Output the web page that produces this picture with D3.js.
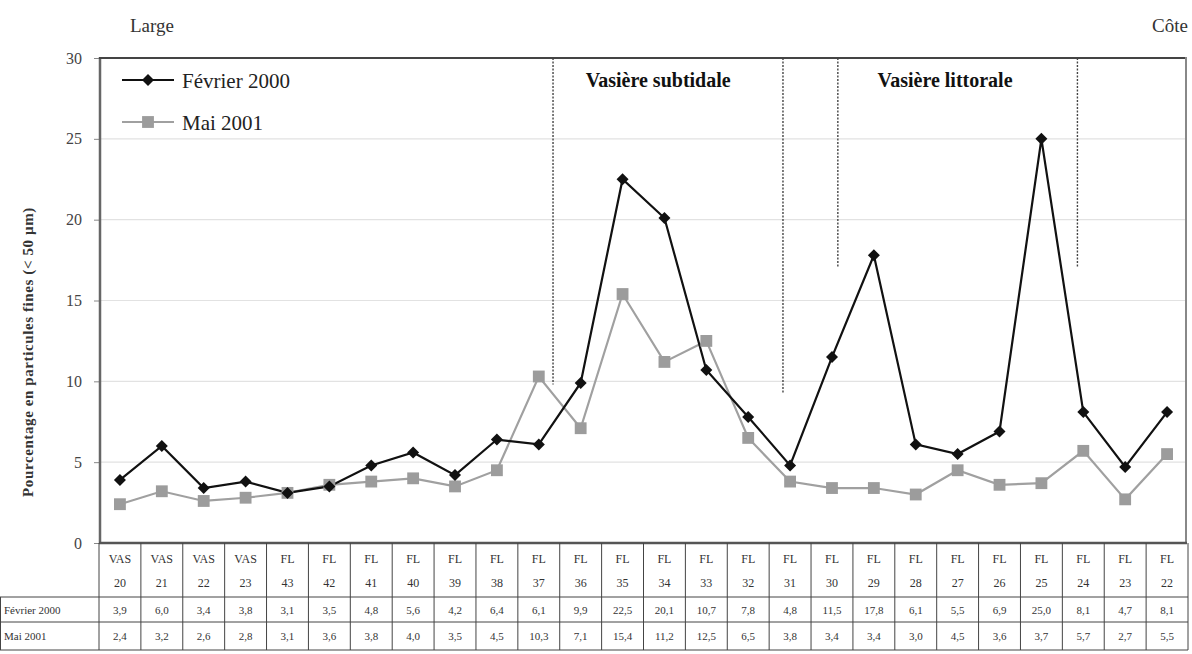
<!DOCTYPE html>
<html><head><meta charset="utf-8">
<script src="https://cdn.jsdelivr.net/npm/d3@7"></script>
<style>body{margin:0;background:#fff}svg{display:block;font-family:"Liberation Serif","DejaVu Serif",serif}</style>
</head><body><svg id="c" width="1192" height="654"></svg>
<script>
const stations = ["VAS 20","VAS 21","VAS 22","VAS 23","FL 43","FL 42","FL 41","FL 40","FL 39","FL 38","FL 37","FL 36","FL 35","FL 34","FL 33","FL 32","FL 31","FL 30","FL 29","FL 28","FL 27","FL 26","FL 25","FL 24","FL 23","FL 22"];
const fevrier2000 = [3.9,6.0,3.4,3.8,3.1,3.5,4.8,5.6,4.2,6.4,6.1,9.9,22.5,20.1,10.7,7.8,4.8,11.5,17.8,6.1,5.5,6.9,25.0,8.1,4.7,8.1];
const mai2001 = [2.4,3.2,2.6,2.8,3.1,3.6,3.8,4.0,3.5,4.5,10.3,7.1,15.4,11.2,12.5,6.5,3.8,3.4,3.4,3.0,4.5,3.6,3.7,5.7,2.7,5.5];
const seriesNames = ["Février 2000","Mai 2001"];
const yTicks = [0,5,10,15,20,25,30];
// zone separators: position in station index units, and bottom value
const separators = [{pos:10.34,to:9.8},{pos:15.83,to:9.3},{pos:17.14,to:17.1},{pos:22.86,to:17.1}];
const zoneLabels = [{text:"Vasière subtidale",pos:12.85},{text:"Vasière littorale",pos:19.7}];

const svg = d3.select("#c");
const x = d3.scaleBand().domain(stations).range([99,1188]).padding(0);
const xc = s => x(s)+x.bandwidth()/2;
const xi = i => x(stations[0]) + x.bandwidth()/2 + i*x.step();
const y = d3.scaleLinear().domain([0,30]).range([543,58]);
const L = 100, R = 1186;

// gridlines
svg.append("g").selectAll("line").data(yTicks.filter(t=>t>0&&t<30)).join("line")
  .attr("x1",L).attr("x2",R).attr("y1",d=>y(d)).attr("y2",d=>y(d))
  .attr("stroke","#e2e2e2").attr("stroke-width",1.2);

// y axis
const ya = svg.append("g").attr("transform",`translate(${L},0)`)
  .call(d3.axisLeft(y).tickValues(yTicks).tickSize(6).tickPadding(12));
ya.select(".domain").remove();
ya.selectAll("line").attr("stroke","#888");
ya.selectAll("text").attr("font-family","Liberation Serif").attr("font-size",16).attr("fill","#444");

// frame
svg.append("line").attr("x1",L).attr("x2",L).attr("y1",57).attr("y2",544).attr("stroke","#666").attr("stroke-width",2.5);
svg.append("line").attr("x1",L-1).attr("x2",R+1).attr("y1",58).attr("y2",58).attr("stroke","#444").attr("stroke-width",2);
svg.append("line").attr("x1",R).attr("x2",R).attr("y1",57).attr("y2",544).attr("stroke","#888").attr("stroke-width",2);
svg.append("line").attr("x1",L-1).attr("x2",R+1).attr("y1",543).attr("y2",543).attr("stroke","#555").attr("stroke-width",2.5);

// separators
svg.append("g").selectAll("line").data(separators).join("line")
  .attr("x1",d=>xi(d.pos)).attr("x2",d=>xi(d.pos)).attr("y1",y(30)).attr("y2",d=>y(d.to))
  .attr("stroke","#444").attr("stroke-width",1.4).attr("stroke-dasharray","2,1.5");
svg.append("g").selectAll("text").data(zoneLabels).join("text")
  .attr("x",d=>xi(d.pos)).attr("y",87).attr("text-anchor","middle")
  .attr("font-size",20).attr("font-weight","bold").attr("fill","#111").text(d=>d.text);

// lines
const line = vals => d3.line().x((d,i)=>xc(stations[i])).y(d=>y(d))(vals);
svg.append("path").attr("d",line(mai2001)).attr("fill","none").attr("stroke","#a0a0a0").attr("stroke-width",2.2);
svg.append("path").attr("d",line(fevrier2000)).attr("fill","none").attr("stroke","#111").attr("stroke-width",2.2);
svg.append("g").selectAll("path").data(mai2001).join("path")
  .attr("d",d3.symbol(d3.symbolSquare,140)).attr("transform",(d,i)=>`translate(${xc(stations[i])},${y(d)})`).attr("fill","#9c9c9c");
svg.append("g").selectAll("path").data(fevrier2000).join("path")
  .attr("d",d3.symbol(d3.symbolSquare,72)).attr("transform",(d,i)=>`translate(${xc(stations[i])},${y(d)}) rotate(45)`).attr("fill","#111");

// legend
const leg = [{name:seriesNames[0],col:"#111",sz:72,rot:45,fill:"#111",yy:80},
             {name:seriesNames[1],col:"#a0a0a0",sz:140,rot:0,fill:"#9c9c9c",yy:122}];
leg.forEach(d=>{
  svg.append("line").attr("x1",122).attr("x2",174).attr("y1",d.yy).attr("y2",d.yy).attr("stroke",d.col).attr("stroke-width",2.2);
  svg.append("path").attr("d",d3.symbol(d3.symbolSquare,d.sz)).attr("transform",`translate(148,${d.yy}) rotate(${d.rot})`).attr("fill",d.fill);
  svg.append("text").attr("x",182).attr("y",d.yy+8).attr("font-size",21).attr("fill","#222").text(d.name);
});

// top labels
svg.append("text").attr("x",130).attr("y",32).attr("font-size",19).attr("fill","#333").text("Large");
svg.append("text").attr("x",1188).attr("y",32).attr("text-anchor","end").attr("font-size",19).attr("fill","#333").text("Côte");

// y title
svg.append("text").attr("transform","translate(33,352) rotate(-90)").attr("text-anchor","middle")
  .attr("font-size",15).attr("letter-spacing",0.6).attr("font-weight","bold").attr("fill","#333").text("Pourcentage en particules fines (< 50 µm)");

// table
const fmt = v => d3.format(".1f")(v).replace(".",",");
const tb = svg.append("g");
const xRight = x.range()[1];
[597,622,650].forEach(yy=>tb.append("line").attr("x1",0).attr("x2",xRight).attr("y1",yy).attr("y2",yy).attr("stroke","#444").attr("stroke-width",1));
tb.append("line").attr("x1",0.5).attr("x2",0.5).attr("y1",597).attr("y2",650).attr("stroke","#444");
const bounds = stations.map(s=>x(s)).concat([xRight]);
tb.selectAll("line.v").data(bounds).join("line").attr("class","v")
  .attr("x1",d=>d).attr("x2",d=>d).attr("y1",543).attr("y2",650).attr("stroke","#444").attr("stroke-width",1);
const hdr = tb.selectAll("text.h").data(stations).join("text").attr("class","h")
  .attr("x",d=>xc(d)).attr("text-anchor","middle").attr("font-size",12).attr("fill","#333");
hdr.append("tspan").attr("x",d=>xc(d)).attr("y",563).text(d=>d.split(" ")[0]);
hdr.append("tspan").attr("x",d=>xc(d)).attr("y",587).text(d=>d.split(" ")[1]);
[[fevrier2000,614],[mai2001,640]].forEach(([vals,yy],k)=>{
  tb.append("text").attr("x",4).attr("y",yy).attr("font-size",11).attr("fill","#333").text(seriesNames[k]);
  tb.append("g").selectAll("text").data(vals).join("text")
    .attr("x",(d,i)=>xc(stations[i])).attr("y",yy).attr("text-anchor","middle").attr("font-size",11).attr("fill","#333").text(fmt);
});
</script></body></html>
